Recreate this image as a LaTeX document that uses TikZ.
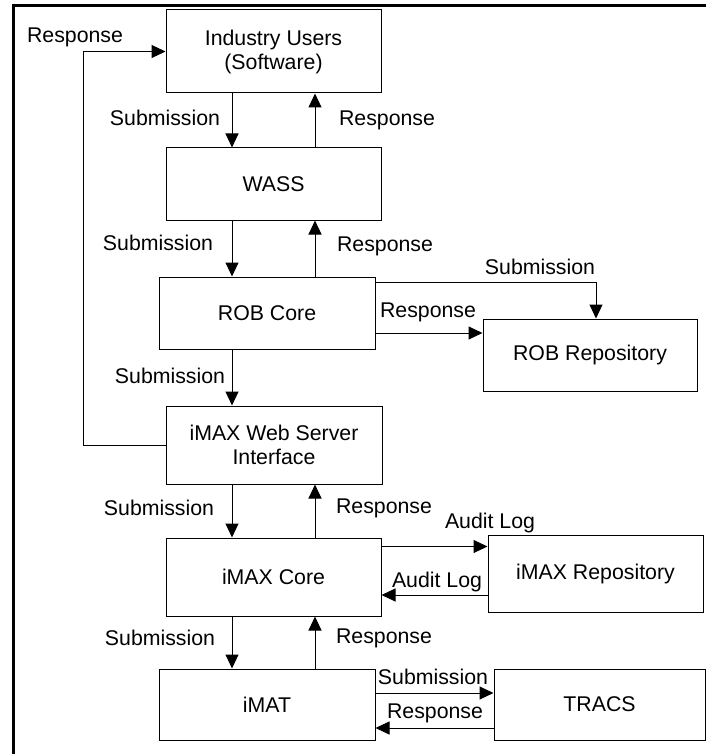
\documentclass[tikz,border=0pt]{standalone}
\usepackage{fontspec}
\setmainfont{Liberation Sans}
\usetikzlibrary{arrows.meta,positioning}

\tikzset{
  box/.style={draw=black, line width=1pt, align=center, inner sep=0pt,
    minimum width=215pt, minimum height=72pt},
  flow/.style={draw=black, line width=1pt, -{Triangle[length=14pt,width=13pt]}},
  lbl/.style={inner sep=0pt}
}

\begin{document}
\begin{tikzpicture}[x=1pt,y=-1pt,font=\fontsize{21.3}{24}\selectfont]
\useasboundingbox (0,0) rectangle (706,754);
\draw [line width=3.5pt] (706,5.3) -- (13.5,5.3) -- (13.5,754);
\node [box, minimum height=83pt] (users) at (273.5,51.5) {Industry Users\\(Software)};
\node [box] (wass) at (273.5,184) {WASS};
\node [box, minimum width=216pt] (robcore) at (267,313) {ROB Core};
\node [box, minimum width=214pt] (robrepo) at (590,355) {ROB Repository};
\node [box, minimum width=216pt, minimum height=78pt] (webif) at (274,445) {iMAX Web Server\\Interface};
\node [box, minimum height=78pt] (imaxcore) at (273.5,577) {iMAX Core};
\node [box, minimum height=77pt] (imaxrepo) at (595.5,573.5) {iMAX Repository};
\node [box, minimum width=216pt, minimum height=71pt] (imat) at (267,704.5) {iMAT};
\node [box, minimum width=211pt, minimum height=71pt] (tracs) at (599.5,704.5) {TRACS};
\coordinate (sub) at (232,0);
\coordinate (res) at (315,0);
\coordinate (fb) at (83,0);
\draw [flow] (users.south -| sub) -- (wass.north -| sub);
\draw [flow] (wass.north -| res) -- (users.south -| res);
\draw [flow] (wass.south -| sub) -- (robcore.north -| sub);
\draw [flow] (robcore.north -| res) -- (wass.south -| res);
\draw [flow] (robcore.south -| sub) -- (webif.north -| sub);
\draw [flow] (webif.west) -- (webif.west -| fb) -- (fb |- users.west) -- (users.west);
\draw [flow] (webif.south -| sub) -- (imaxcore.north -| sub);
\draw [flow] (imaxcore.north -| res) -- (webif.south -| res);
\draw [flow] (imaxcore.south -| sub) -- (imat.north -| sub);
\draw [flow] (imat.north -| res) -- (imaxcore.south -| res);
\coordinate (rs) at ([yshift=-6pt]robcore.north east);
\coordinate (rr) at ([yshift=-20pt]robcore.east);
\draw [flow] (rs) -| ([xshift=6pt]robrepo.north);
\draw [flow] (rr) -- (rr -| robrepo.west);
\coordinate (a1) at ([yshift=-9pt]imaxcore.north east);
\coordinate (a2) at ([yshift=-18pt]imaxcore.east);
\draw [flow] (a1) -- (a1 -| imaxrepo.west);
\draw [flow] (a2 -| imaxrepo.west) -- (a2);
\coordinate (t1) at ([yshift=11.5pt]imat.east);
\coordinate (t2) at ([yshift=-23.5pt]imat.east);
\draw [flow] (t1) -- (t1 -| tracs.west);
\draw [flow] (t2 -| tracs.west) -- (t2);
\node [lbl] (l1) at (75,37) {Response};
\node [lbl] (l2) at (165,118) {Submission};
\node [lbl] (l3) at (387,120) {Response};
\node [lbl] (l4) at (158,243) {Submission};
\node [lbl] (l5) at (385,246) {Response};
\node [lbl] (l6) at (540,267) {Submission};
\node [lbl] (l7) at (428,312) {Response};
\node [lbl] (l8) at (170,376) {Submission};
\node [lbl] (l9) at (159,508) {Submission};
\node [lbl] (l10) at (384,508) {Response};
\node [lbl] (l11) at (490,523) {Audit Log};
\node [lbl] (l12) at (437,582) {Audit Log};
\node [lbl] (l13) at (160,638) {Submission};
\node [lbl] (l14) at (384,638) {Response};
\node [lbl] (l15) at (433,677) {Submission};
\node [lbl] (l16) at (435,713) {Response};
\end{tikzpicture}
\end{document}
